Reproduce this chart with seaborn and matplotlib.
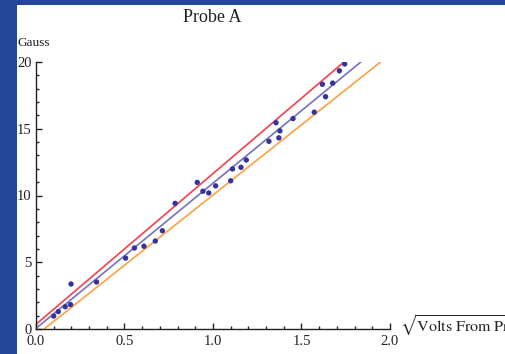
import numpy as np
import pandas as pd
import matplotlib
matplotlib.use('Agg')
import matplotlib.pyplot as plt
from matplotlib.ticker import MultipleLocator
import seaborn as sns

sns.set_style('ticks')
plt.rcParams['font.family'] = ['Liberation Serif', 'DejaVu Serif']
plt.rcParams['mathtext.fontset'] = 'stix'

# Measured points: sqrt(volts) vs gauss
sqrt_volts = [0.100, 0.126, 0.165, 0.195, 0.198, 0.342, 0.506, 0.556, 0.610, 0.674,
              0.714, 0.786, 0.911, 0.943, 0.976, 1.015, 1.100, 1.110, 1.158, 1.188,
              1.316, 1.372, 1.378, 1.356, 1.452, 1.572, 1.618, 1.636, 1.676, 1.714, 1.744]
gauss = [0.97, 1.30, 1.67, 1.83, 3.37, 3.52, 5.31, 6.07, 6.20, 6.59,
         7.36, 9.41, 10.98, 10.32, 10.19, 10.72, 11.10, 11.99, 12.11, 12.66,
         14.06, 14.32, 14.84, 15.45, 15.76, 16.24, 18.33, 17.40, 18.42, 19.34, 19.85]

# Fit lines (endpoints)
upper_x = [0.0, 1.74]
upper_y = [0.35, 20.0]
fit_x = [0.0, 1.835]
fit_y = [0.05, 20.0]
lower_x = [0.046, 1.947]
lower_y = [0.0, 20.0]

xticks = [0.0, 0.5, 1.0, 1.5, 2.0]
yticks = [0, 5, 10, 15, 20]

W, H = 506, 354
fig = plt.figure(figsize=(W / 100, H / 100), dpi=100)
fig.patch.set_facecolor('#24469a')

# white slide panel behind the plot
bg = fig.add_axes([17 / W, 0, 1 - 17 / W, (H - 5) / H])
bg.set_axis_off()
bg.add_patch(plt.Rectangle((0, 0), 1, 1, transform=bg.transAxes, color='white'))

ax = fig.add_axes([36 / W, (H - 329) / H, 354 / W, 267 / H])
ax.set_facecolor('none')

lines = pd.DataFrame({
    'x': upper_x + fit_x + lower_x,
    'y': upper_y + fit_y + lower_y,
    'fit': ['upper'] * 2 + ['fit'] * 2 + ['lower'] * 2,
})
sns.lineplot(data=lines, x='x', y='y', hue='fit', ax=ax, legend=False,
             palette={'upper': '#f5464f', 'fit': '#7676c4', 'lower': '#ffa248'},
             linewidth=1.25, sort=False)
pts = pd.DataFrame({'x': sqrt_volts, 'y': gauss})
sns.scatterplot(data=pts, x='x', y='y', ax=ax, color='#34349a', s=15,
                edgecolor='none', zorder=5)

ax.set_xlim(0, 2)
ax.set_ylim(0, 20)
ax.set_xticks(xticks)
ax.set_xticklabels([f'{v:.1f}' for v in xticks])
ax.set_yticks(yticks)
ax.set_yticklabels([str(v) for v in yticks])
ax.xaxis.set_minor_locator(MultipleLocator(0.1))
ax.yaxis.set_minor_locator(MultipleLocator(1))
ax.tick_params(which='both', direction='in', color='#222222', width=1.0,
               labelsize=10.5, labelcolor='#222222')
ax.tick_params(axis='x', pad=4)
ax.tick_params(axis='y', pad=3)
ax.tick_params(which='major', length=4)
ax.tick_params(which='minor', length=2.2)
sns.despine(ax=ax)
for s in ['left', 'bottom']:
    ax.spines[s].set_color('#222222')
    ax.spines[s].set_linewidth(1.0)
ax.set_xlabel('')
ax.set_ylabel('')

fig.text(212 / W, 1 - 18 / H, 'Probe A', ha='center', va='center',
         fontsize=13, color='#222222')
fig.text(18 / W, 1 - 43 / H, 'Gauss', ha='left', va='center',
         fontsize=9.5, color='#222222')
fig.text(400 / W, 1 - 326 / H, r'$\sqrt{\mathrm{Volts\ From\ Probe}}$',
         ha='left', va='center', fontsize=11.5, color='#222222')

fig.savefig('out.png', dpi=100)
